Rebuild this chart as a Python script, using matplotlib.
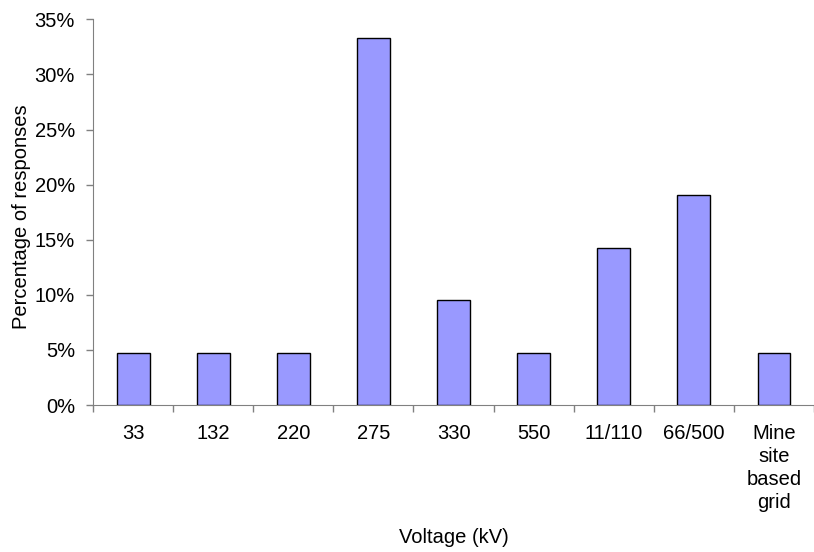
import matplotlib
matplotlib.use('Agg')
import matplotlib.pyplot as plt
import numpy as np
from matplotlib.ticker import PercentFormatter, MultipleLocator

plt.rcParams['font.family'] = ['Liberation Sans', 'DejaVu Sans']
plt.rcParams['font.size'] = 14.5

# Data (share of 21 responses)
categories = ['33', '132', '220', '275', '330', '550', '11/110', '66/500',
              'Mine\nsite\nbased\ngrid']
percentages = [4.76, 4.76, 4.76, 33.33, 9.52, 4.76, 14.29, 19.05, 4.76]

fig = plt.figure(figsize=(8.14, 5.52), dpi=100)
ax = fig.add_axes([0.1143, 0.2663, 0.8857, 0.6987])

x = np.arange(len(categories))
ax.bar(x, percentages, width=0.41, color='#9999FF', edgecolor='black',
       linewidth=1.0, zorder=3)

ax.set_xlim(-0.5, len(categories) - 0.5)
ax.set_ylim(0, 35)
ax.yaxis.set_major_locator(MultipleLocator(5))
ax.yaxis.set_major_formatter(PercentFormatter(decimals=0))

# category labels centred, ticks between categories (Excel style)
ax.set_xticks(np.arange(len(categories) + 1) - 0.5)
ax.set_xticklabels([])
ax.set_xticks(x, minor=True)
ax.set_xticklabels(categories, minor=True, va='top', linespacing=1.25)
ax.tick_params(axis='x', which='minor', length=0, pad=14)
ax.tick_params(axis='x', which='major', length=5, width=1, color='#808080',
               direction='out')
ax.tick_params(axis='y', length=5, width=1, color='#808080', direction='out',
               pad=8)

for side in ['top', 'right']:
    ax.spines[side].set_visible(False)
ax.spines['left'].set_color('#808080')
ax.spines['bottom'].set_color('#808080')

ax.set_xlabel('Voltage (kV)')
ax.set_ylabel('Percentage of responses')
ax.xaxis.set_label_coords(0.5, -0.319)
ax.yaxis.set_label_coords(-0.086, 0.487)

fig.savefig('out.png', dpi=100)
